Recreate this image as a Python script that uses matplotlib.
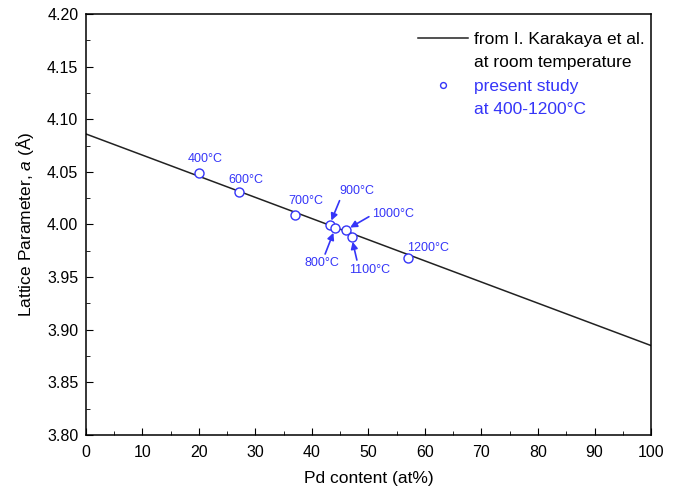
import numpy as np
import matplotlib.pyplot as plt
from matplotlib.ticker import MultipleLocator
from matplotlib.lines import Line2D

plt.rcParams['font.family'] = ['Liberation Sans', 'DejaVu Sans']
plt.rcParams['mathtext.fontset'] = 'custom'
plt.rcParams['mathtext.rm'] = 'Liberation Sans'
plt.rcParams['mathtext.it'] = 'Liberation Sans:italic'

# reference line (Karakaya et al.)
ref_x = [0, 100]
ref_y = [4.086, 3.885]

# present study
pd_content = [20, 27, 37, 43.1, 44.1, 46.0, 47.0, 57.0]
lattice = [4.049, 4.031, 4.009, 3.9995, 3.9964, 3.9948, 3.988, 3.9685]
temps = ['400', '600', '700', '900', '800', '1000', '1100', '1200']

blue = '#3535f8'

fig = plt.figure(figsize=(6.77, 4.94), dpi=100)
ax = fig.add_axes([0.127, 0.1194, 0.8346, 0.8523])

ref_line, = ax.plot(ref_x, ref_y, color='#222222', lw=1.1)
pts, = ax.plot(pd_content, lattice, 'o', mfc='white', mec=blue, ms=6.5, mew=1.0,
               linestyle='none')

# label offsets in points, and where the arrow leaves the label (None = no arrow)
offs = {
    '400': (-8, 6, None),
    '600': (-7, 4, None),
    '700': (-5, 5.5, None),
    '900': (7, 20, (0.05, 0)),
    '800': (-22, -21, (0.55, 1)),
    '1000': (19, 7.5, (0, 0.4)),
    '1100': (-1.5, -19, (0.2, 1)),
    '1200': (-1, 2.5, None),
}
for x, y, t in zip(pd_content, lattice, temps):
    dx, dy, rel = offs[t]
    lab = t + '°C'
    if rel is not None:
        ax.annotate(lab, (x, y), xytext=(dx, dy), textcoords='offset points',
                    color=blue, fontsize=9, ha='left', va='bottom' if dy > 0 else 'top',
                    arrowprops=dict(arrowstyle='-|>', color=blue, lw=1.2, relpos=rel,
                                    shrinkA=0.5, shrinkB=3.5, mutation_scale=10))
    else:
        ax.annotate(lab, (x, y), xytext=(dx, dy), textcoords='offset points',
                    color=blue, fontsize=9, ha='left', va='bottom')

ax.set_xlim(0, 100)
ax.set_ylim(3.80, 4.20)
ax.xaxis.set_major_locator(MultipleLocator(10))
ax.xaxis.set_minor_locator(MultipleLocator(5))
ax.yaxis.set_major_locator(MultipleLocator(0.05))
ax.yaxis.set_minor_locator(MultipleLocator(0.025))
ax.yaxis.set_major_formatter(plt.FormatStrFormatter('%.2f'))
ax.tick_params(which='both', direction='in', top=False, right=False, labelsize=11.5)
ax.tick_params(which='major', length=5)
ax.tick_params(which='minor', length=3)
ax.tick_params(axis='x', pad=7)
ax.tick_params(axis='y', pad=5.5)
for s in ax.spines.values():
    s.set_linewidth(1.1)

ax.set_xlabel('Pd content (at%)', fontsize=12.5, labelpad=8)
ax.set_ylabel('Lattice Parameter, $a$ ($\\mathrm{\\AA}$)', fontsize=12.5, labelpad=8)

blank = Line2D([], [], linestyle='none', marker='none')
handles = [ref_line, blank, pts, blank]
labels = ['from I. Karakaya et al.', 'at room temperature',
          'present study', 'at 400-1200°C']
leg = ax.legend(handles, labels, loc='upper left',
                bbox_to_anchor=(418 / 677, 1 - 32 / 494),
                bbox_transform=fig.transFigure, frameon=False, fontsize=12.5,
                handlelength=2.9, handletextpad=0.35, labelspacing=0.47,
                borderpad=0, borderaxespad=0, markerscale=0.65)
for t in leg.get_texts()[2:]:
    t.set_color(blue)

fig.savefig('out.png', dpi=100)
